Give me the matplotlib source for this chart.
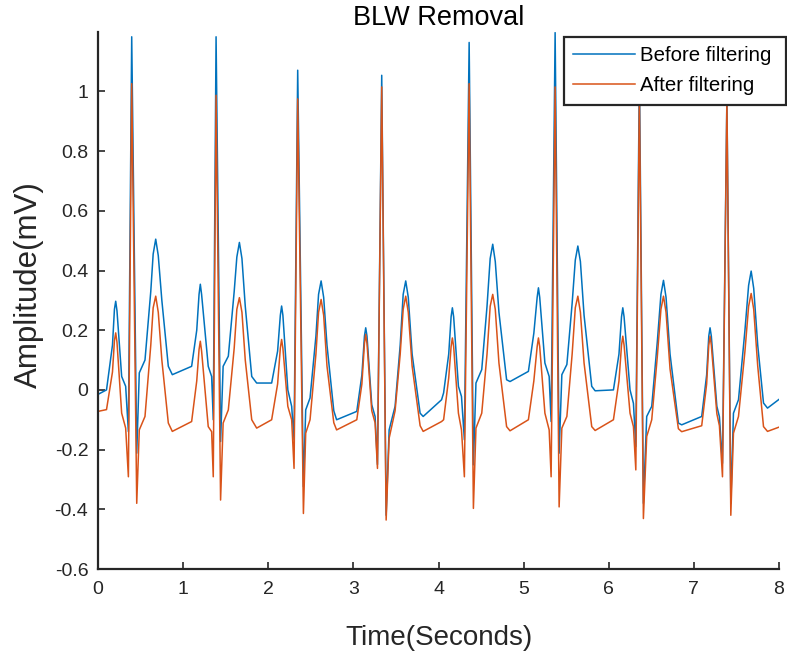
import matplotlib
matplotlib.use("Agg")
import matplotlib.pyplot as plt

plt.rcParams['font.family'] = ['Liberation Sans', 'DejaVu Sans']
plt.rcParams['axes.unicode_minus'] = False

# Sample times (seconds), one line per beat
time_s = [
    0.00, 0.10, 0.17, 0.193, 0.208, 0.223, 0.278, 0.325, 0.357, 0.396, 0.455, 0.485, 0.552, 0.62, 0.648, 0.678, 0.708, 0.75, 0.826, 0.873,
    1.10, 1.16, 1.187, 1.202, 1.217, 1.295, 1.335, 1.354, 1.387, 1.44, 1.47, 1.531, 1.60, 1.631, 1.661, 1.691, 1.73, 1.806, 1.864,
    2.04, 2.11, 2.142, 2.157, 2.172, 2.23, 2.275, 2.303, 2.346, 2.413, 2.44, 2.491, 2.56, 2.591, 2.621, 2.651, 2.69, 2.77, 2.803,
    3.04, 3.10, 3.13, 3.145, 3.16, 3.216, 3.255, 3.283, 3.333, 3.385, 3.42, 3.49, 3.55, 3.585, 3.615, 3.645, 3.69, 3.784, 3.82,
    4.036, 4.06, 4.12, 4.148, 4.163, 4.178, 4.234, 4.27, 4.304, 4.36, 4.41, 4.44, 4.508, 4.57, 4.607, 4.637, 4.667, 4.71, 4.80, 4.84,
    5.056, 5.12, 5.159, 5.174, 5.189, 5.25, 5.30, 5.323, 5.37, 5.417, 5.449, 5.508, 5.57, 5.607, 5.637, 5.667, 5.71, 5.80, 5.84,
    6.055, 6.12, 6.15, 6.165, 6.18, 6.25, 6.29, 6.318, 6.36, 6.407, 6.446, 6.505, 6.57, 6.613, 6.643, 6.673, 6.72, 6.818, 6.857,
    7.092, 7.15, 7.175, 7.19, 7.205, 7.27, 7.30, 7.336, 7.388, 7.434, 7.465, 7.524, 7.60, 7.643, 7.673, 7.703, 7.75, 7.818, 7.865,
    8.045,
]

# Amplitude (mV) before filtering
before_filtering = [
    -0.015, 0.00, 0.15, 0.27, 0.297, 0.265, 0.045, 0.012, -0.14, 1.183, -0.212, 0.057, 0.10, 0.33, 0.455, 0.505, 0.45, 0.30, 0.079, 0.051,
    0.079, 0.20, 0.32, 0.354, 0.32, 0.079, 0.045, -0.10, 1.183, -0.173, 0.079, 0.113, 0.33, 0.445, 0.494, 0.44, 0.28, 0.045, 0.023,
    0.023, 0.13, 0.25, 0.281, 0.25, 0.0, -0.055, -0.167, 1.071, -0.324, -0.067, -0.027, 0.18, 0.32, 0.365, 0.31, 0.15, -0.07, -0.10,
    -0.072, 0.05, 0.18, 0.208, 0.18, -0.05, -0.089, -0.25, 1.054, -0.42, -0.134, -0.055, 0.15, 0.32, 0.365, 0.31, 0.12, -0.078, -0.089,
    -0.033, -0.01, 0.12, 0.245, 0.275, 0.245, 0.012, -0.022, -0.167, 1.164, -0.251, 0.023, 0.068, 0.28, 0.44, 0.488, 0.43, 0.26, 0.034, 0.028,
    0.062, 0.19, 0.31, 0.342, 0.31, 0.09, 0.045, -0.106, 1.197, -0.212, 0.051, 0.085, 0.29, 0.435, 0.482, 0.43, 0.25, 0.012, -0.003,
    0.0, 0.12, 0.245, 0.275, 0.245, 0.0, -0.045, -0.19, 1.07, -0.38, -0.089, -0.055, 0.16, 0.32, 0.367, 0.31, 0.12, -0.111, -0.117,
    -0.089, 0.05, 0.18, 0.208, 0.18, -0.055, -0.09, -0.246, 0.98, -0.38, -0.078, -0.033, 0.20, 0.35, 0.398, 0.34, 0.15, -0.044, -0.061,
    -0.022,
]

# Amplitude (mV) after filtering
after_filtering = [
    -0.072, -0.066, 0.06, 0.165, 0.191, 0.16, -0.078, -0.128, -0.291, 1.026, -0.38, -0.134, -0.089, 0.15, 0.275, 0.314, 0.26, 0.10, -0.111, -0.139,
    -0.106, 0.03, 0.135, 0.163, 0.13, -0.123, -0.14, -0.291, 0.987, -0.369, -0.111, -0.067, 0.14, 0.27, 0.309, 0.26, 0.10, -0.10, -0.128,
    -0.10, 0.02, 0.14, 0.169, 0.14, -0.055, -0.10, -0.263, 0.975, -0.414, -0.145, -0.10, 0.12, 0.26, 0.303, 0.25, 0.08, -0.11, -0.134,
    -0.10, 0.02, 0.155, 0.186, 0.155, -0.07, -0.11, -0.263, 1.015, -0.436, -0.162, -0.07, 0.12, 0.27, 0.314, 0.26, 0.08, -0.12, -0.139,
    -0.106, -0.10, 0.04, 0.145, 0.174, 0.145, -0.078, -0.134, -0.291, 1.026, -0.397, -0.128, -0.078, 0.12, 0.28, 0.32, 0.27, 0.09, -0.123, -0.137,
    -0.10, 0.03, 0.145, 0.174, 0.145, -0.078, -0.134, -0.291, 1.015, -0.392, -0.128, -0.089, 0.12, 0.275, 0.314, 0.26, 0.09, -0.123, -0.136,
    -0.10, 0.03, 0.15, 0.18, 0.15, -0.078, -0.123, -0.268, 0.99, -0.431, -0.156, -0.10, 0.11, 0.27, 0.314, 0.26, 0.07, -0.13, -0.14,
    -0.12, 0.02, 0.15, 0.18, 0.15, -0.08, -0.12, -0.291, 0.97, -0.42, -0.145, -0.089, 0.13, 0.28, 0.323, 0.27, 0.08, -0.123, -0.139,
    -0.12,
]

series_labels = ["Before filtering", "After filtering"]
x_ticks = [0, 1, 2, 3, 4, 5, 6, 7, 8]
y_ticks = [-0.6, -0.4, -0.2, 0, 0.2, 0.4, 0.6, 0.8, 1]
y_tick_labels = ["-0.6", "-0.4", "-0.2", "0", "0.2", "0.4", "0.6", "0.8", "1"]

W, H = 787, 653
fig = plt.figure(figsize=(W / 100, H / 100), dpi=100)
ax = fig.add_axes([98 / W, 1 - 569 / H, (779 - 98) / W, (569 - 31.7) / H])

ax.plot(time_s, before_filtering, color="#0072BD", lw=1.1, label=series_labels[0])
ax.plot(time_s, after_filtering, color="#D95319", lw=1.1, label=series_labels[1])

ax.set_xlim(0, 8)
ax.set_ylim(-0.6, 1.2)
ax.set_xticks(x_ticks)
ax.set_xticklabels([str(v) for v in x_ticks])
ax.set_yticks(y_ticks)
ax.set_yticklabels(y_tick_labels)

dark = "#262626"
for s in ["top", "right"]:
    ax.spines[s].set_visible(False)
for s in ["left", "bottom"]:
    ax.spines[s].set_color(dark)
    ax.spines[s].set_linewidth(1.6)
ax.tick_params(direction="in", length=5, width=1.2, colors=dark, labelsize=14)
ax.tick_params(axis="x", pad=9)
ax.tick_params(axis="y", pad=7)

ax.set_xlabel("Time(Seconds)", fontsize=20, color=dark, labelpad=19)
ax.set_ylabel("Amplitude(mV)", fontsize=22.5, color=dark)
ax.yaxis.set_label_coords(-0.080, 0.529)
ax.set_title("BLW Removal", fontsize=19.5, color="black", pad=5)

leg = ax.legend(loc="upper right", bbox_to_anchor=(786 / W, 1 - 37 / H),
                bbox_transform=fig.transFigure, fontsize=14.7, frameon=True,
                fancybox=False, handlelength=3.0, handletextpad=0.25,
                labelspacing=0.55, borderpad=0.45, borderaxespad=0)
for t in leg.get_texts():
    t.set_text(t.get_text() + " ")
leg.get_frame().set_edgecolor(dark)
leg.get_frame().set_linewidth(1.6)
leg.get_frame().set_alpha(1)

fig.savefig("out.png", dpi=100)
